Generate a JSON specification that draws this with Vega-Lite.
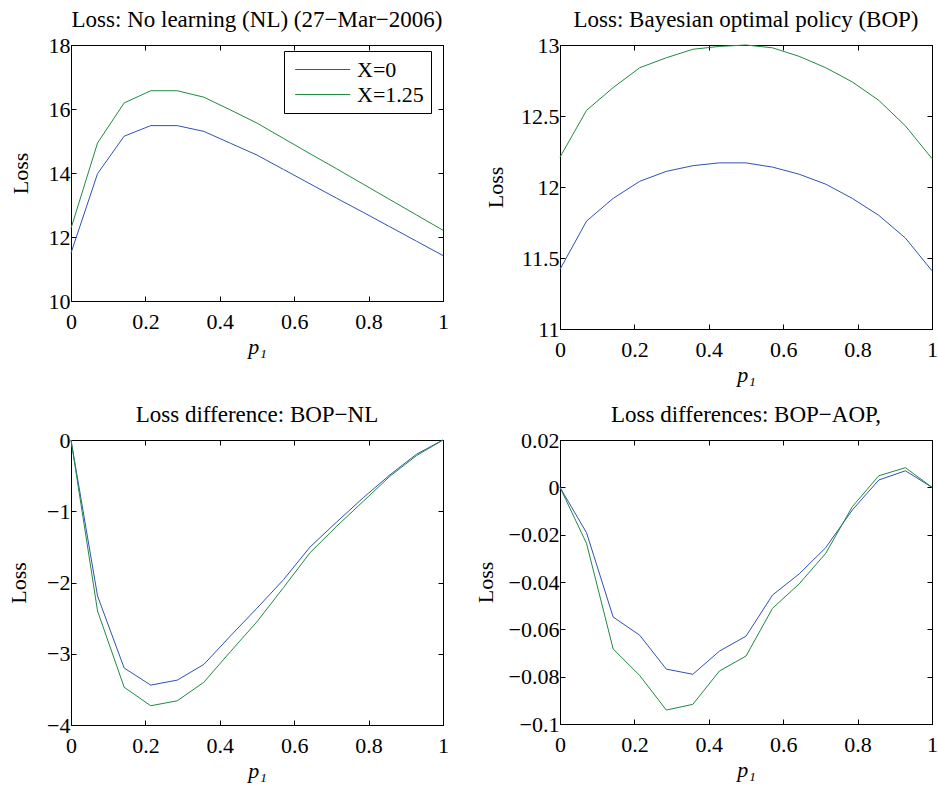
{
  "$schema": "https://vega.github.io/schema/vega-lite/v6.json",
  "background": "white",
  "padding": {"left": 7, "top": 8, "right": 3, "bottom": 5},
  "columns": 2,
  "spacing": {"row": 111, "column": 117},
  "bounds": "flush",
  "config": {
    "font": "Liberation Serif",
    "view": {"stroke": "black", "strokeWidth": 1},
    "axis": {
      "domainColor": "black", "domainWidth": 1,
      "tickColor": "black", "tickSize": -5, "tickWidth": 1,
      "labelFont": "Liberation Serif", "labelFontSize": 22, "labelColor": "black",
      "labelFlush": false, "labelOverlap": false,
      "titleFont": "Liberation Serif", "titleFontSize": 22, "titleFontWeight": "normal", "titleColor": "black",
      "grid": false
    },
    "axisX": {"titlePadding": 4, "labelPadding": 15},
    "axisY": {"titlePadding": 16, "labelPadding": 6},
    "title": {"font": "Liberation Serif", "fontSize": 23, "fontWeight": "normal", "color": "black", "offset": 2},
    "legend": {
      "orient": "none", "legendX": 213, "legendY": 6, "strokeColor": "black", "fillColor": "white", "padding": 7,
      "symbolType": "M-0.67,0H4.33", "symbolSize": 484, "symbolStrokeWidth": 1, "labelOffset": 43,
      "labelFont": "Liberation Serif", "labelFontSize": 22, "labelColor": "black", "rowPadding": 2
    }
  },
  "datasets": {
    "nl": [
      {"p": 0, "s": "X=0", "v": 11.5}, {"p": 0.0714, "s": "X=0", "v": 13.98}, {"p": 0.1429, "s": "X=0", "v": 15.15},
      {"p": 0.2143, "s": "X=0", "v": 15.48}, {"p": 0.2857, "s": "X=0", "v": 15.48}, {"p": 0.3571, "s": "X=0", "v": 15.3},
      {"p": 0.4286, "s": "X=0", "v": 14.93}, {"p": 0.5, "s": "X=0", "v": 14.56}, {"p": 0.5714, "s": "X=0", "v": 14.11},
      {"p": 0.6429, "s": "X=0", "v": 13.66}, {"p": 0.7143, "s": "X=0", "v": 13.21}, {"p": 0.7857, "s": "X=0", "v": 12.77},
      {"p": 0.8571, "s": "X=0", "v": 12.32}, {"p": 0.9286, "s": "X=0", "v": 11.87}, {"p": 1, "s": "X=0", "v": 11.42},
      {"p": 0, "s": "X=1.25", "v": 12.27}, {"p": 0.0714, "s": "X=1.25", "v": 14.94}, {"p": 0.1429, "s": "X=1.25", "v": 16.19},
      {"p": 0.2143, "s": "X=1.25", "v": 16.57}, {"p": 0.2857, "s": "X=1.25", "v": 16.57}, {"p": 0.3571, "s": "X=1.25", "v": 16.37},
      {"p": 0.4286, "s": "X=1.25", "v": 15.97}, {"p": 0.5, "s": "X=1.25", "v": 15.56}, {"p": 0.5714, "s": "X=1.25", "v": 15.08},
      {"p": 0.6429, "s": "X=1.25", "v": 14.6}, {"p": 0.7143, "s": "X=1.25", "v": 14.13}, {"p": 0.7857, "s": "X=1.25", "v": 13.65},
      {"p": 0.8571, "s": "X=1.25", "v": 13.17}, {"p": 0.9286, "s": "X=1.25", "v": 12.69}, {"p": 1, "s": "X=1.25", "v": 12.21}
    ],
    "bop": [
      {"p": 0, "s": "X=0", "v": 11.42}, {"p": 0.0714, "s": "X=0", "v": 11.76}, {"p": 0.1429, "s": "X=0", "v": 11.92},
      {"p": 0.2143, "s": "X=0", "v": 12.04}, {"p": 0.2857, "s": "X=0", "v": 12.11}, {"p": 0.3571, "s": "X=0", "v": 12.15},
      {"p": 0.4286, "s": "X=0", "v": 12.17}, {"p": 0.5, "s": "X=0", "v": 12.17}, {"p": 0.5714, "s": "X=0", "v": 12.14},
      {"p": 0.6429, "s": "X=0", "v": 12.09}, {"p": 0.7143, "s": "X=0", "v": 12.02}, {"p": 0.7857, "s": "X=0", "v": 11.92},
      {"p": 0.8571, "s": "X=0", "v": 11.8}, {"p": 0.9286, "s": "X=0", "v": 11.64}, {"p": 1, "s": "X=0", "v": 11.41},
      {"p": 0, "s": "X=1.25", "v": 12.21}, {"p": 0.0714, "s": "X=1.25", "v": 12.54}, {"p": 0.1429, "s": "X=1.25", "v": 12.7},
      {"p": 0.2143, "s": "X=1.25", "v": 12.84}, {"p": 0.2857, "s": "X=1.25", "v": 12.91}, {"p": 0.3571, "s": "X=1.25", "v": 12.97},
      {"p": 0.4286, "s": "X=1.25", "v": 12.99}, {"p": 0.5, "s": "X=1.25", "v": 13.0}, {"p": 0.5714, "s": "X=1.25", "v": 12.98},
      {"p": 0.6429, "s": "X=1.25", "v": 12.92}, {"p": 0.7143, "s": "X=1.25", "v": 12.84}, {"p": 0.7857, "s": "X=1.25", "v": 12.74},
      {"p": 0.8571, "s": "X=1.25", "v": 12.61}, {"p": 0.9286, "s": "X=1.25", "v": 12.43}, {"p": 1, "s": "X=1.25", "v": 12.2}
    ],
    "bopnl": [
      {"p": 0, "s": "X=0", "v": 0}, {"p": 0.0714, "s": "X=0", "v": -2.19}, {"p": 0.1429, "s": "X=0", "v": -3.2},
      {"p": 0.2143, "s": "X=0", "v": -3.44}, {"p": 0.2857, "s": "X=0", "v": -3.37}, {"p": 0.3571, "s": "X=0", "v": -3.15},
      {"p": 0.4286, "s": "X=0", "v": -2.75}, {"p": 0.5, "s": "X=0", "v": -2.36}, {"p": 0.5714, "s": "X=0", "v": -1.96},
      {"p": 0.6429, "s": "X=0", "v": -1.5}, {"p": 0.7143, "s": "X=0", "v": -1.15}, {"p": 0.7857, "s": "X=0", "v": -0.81},
      {"p": 0.8571, "s": "X=0", "v": -0.49}, {"p": 0.9286, "s": "X=0", "v": -0.2}, {"p": 1, "s": "X=0", "v": 0},
      {"p": 0, "s": "X=1.25", "v": 0}, {"p": 0.0714, "s": "X=1.25", "v": -2.4}, {"p": 0.1429, "s": "X=1.25", "v": -3.47},
      {"p": 0.2143, "s": "X=1.25", "v": -3.73}, {"p": 0.2857, "s": "X=1.25", "v": -3.66}, {"p": 0.3571, "s": "X=1.25", "v": -3.4},
      {"p": 0.4286, "s": "X=1.25", "v": -2.97}, {"p": 0.5, "s": "X=1.25", "v": -2.55}, {"p": 0.5714, "s": "X=1.25", "v": -2.07},
      {"p": 0.6429, "s": "X=1.25", "v": -1.58}, {"p": 0.7143, "s": "X=1.25", "v": -1.21}, {"p": 0.7857, "s": "X=1.25", "v": -0.86},
      {"p": 0.8571, "s": "X=1.25", "v": -0.51}, {"p": 0.9286, "s": "X=1.25", "v": -0.22}, {"p": 1, "s": "X=1.25", "v": 0}
    ],
    "bopaop": [
      {"p": 0, "s": "X=0", "v": 0}, {"p": 0.0714, "s": "X=0", "v": -0.0192}, {"p": 0.1429, "s": "X=0", "v": -0.0548},
      {"p": 0.2143, "s": "X=0", "v": -0.0625}, {"p": 0.2857, "s": "X=0", "v": -0.0768}, {"p": 0.3571, "s": "X=0", "v": -0.079},
      {"p": 0.4286, "s": "X=0", "v": -0.0692}, {"p": 0.5, "s": "X=0", "v": -0.0629}, {"p": 0.5714, "s": "X=0", "v": -0.0455},
      {"p": 0.6429, "s": "X=0", "v": -0.0366}, {"p": 0.7143, "s": "X=0", "v": -0.0255}, {"p": 0.7857, "s": "X=0", "v": -0.0096},
      {"p": 0.8571, "s": "X=0", "v": 0.0031}, {"p": 0.9286, "s": "X=0", "v": 0.007}, {"p": 1, "s": "X=0", "v": 0},
      {"p": 0, "s": "X=1.25", "v": 0}, {"p": 0.0714, "s": "X=1.25", "v": -0.0237}, {"p": 0.1429, "s": "X=1.25", "v": -0.0683},
      {"p": 0.2143, "s": "X=1.25", "v": -0.0795}, {"p": 0.2857, "s": "X=1.25", "v": -0.0941}, {"p": 0.3571, "s": "X=1.25", "v": -0.0917},
      {"p": 0.4286, "s": "X=1.25", "v": -0.0776}, {"p": 0.5, "s": "X=1.25", "v": -0.0713}, {"p": 0.5714, "s": "X=1.25", "v": -0.0511},
      {"p": 0.6429, "s": "X=1.25", "v": -0.0408}, {"p": 0.7143, "s": "X=1.25", "v": -0.0279}, {"p": 0.7857, "s": "X=1.25", "v": -0.0082},
      {"p": 0.8571, "s": "X=1.25", "v": 0.0049}, {"p": 0.9286, "s": "X=1.25", "v": 0.0083}, {"p": 1, "s": "X=1.25", "v": 0}
    ]
  },
  "concat": [
    {
      "width": 372, "height": 256,
      "data": {"name": "nl"},
      "title": "Loss: No learning (NL) (27−Mar−2006)",
      "layer": [
        {
          "mark": {"type": "line", "strokeWidth": 1},
          "encoding": {
            "x": {"field": "p", "type": "quantitative", "scale": {"domain": [0, 1], "nice": false},
                  "axis": {"values": [0, 0.2, 0.4, 0.6, 0.8, 1], "format": "~g", "title": "p₁", "titleFontStyle": "italic"}},
            "y": {"field": "v", "type": "quantitative", "scale": {"domain": [10, 18], "nice": false, "zero": false},
                  "axis": {"values": [10, 12, 14, 16, 18], "format": "~g", "title": "Loss"}},
            "color": {"field": "s", "type": "nominal", "scale": {"domain": ["X=0", "X=1.25"], "range": ["#2f52b4", "#1f8a42"]},
                      "legend": {"title": null}}
          }
        },
        {
          "mark": {"type": "line", "opacity": 0},
          "encoding": {
            "x": {"field": "p", "type": "quantitative", "axis": {"orient": "top", "values": [0, 0.2, 0.4, 0.6, 0.8, 1], "labels": false, "title": null, "minExtent": 0, "labelPadding": 0}},
            "y": {"field": "v", "type": "quantitative", "axis": {"orient": "right", "values": [10, 12, 14, 16, 18], "labels": false, "title": null, "minExtent": 0, "labelPadding": 0}},
            "detail": {"field": "s"}
          }
        }
      ],
      "resolve": {"axis": {"x": "independent", "y": "independent"}}
    },
    {
      "width": 372, "height": 284,
      "data": {"name": "bop"},
      "title": "Loss: Bayesian optimal policy (BOP)",
      "layer": [
        {
          "mark": {"type": "line", "strokeWidth": 1},
          "encoding": {
            "x": {"field": "p", "type": "quantitative", "scale": {"domain": [0, 1], "nice": false},
                  "axis": {"values": [0, 0.2, 0.4, 0.6, 0.8, 1], "format": "~g", "title": "p₁", "titleFontStyle": "italic"}},
            "y": {"field": "v", "type": "quantitative", "scale": {"domain": [11, 13], "nice": false, "zero": false},
                  "axis": {"values": [11, 11.5, 12, 12.5, 13], "format": "~g", "title": "Loss", "titlePadding": 13}},
            "color": {"field": "s", "type": "nominal", "scale": {"domain": ["X=0", "X=1.25"], "range": ["#2f52b4", "#1f8a42"]}, "legend": null}
          }
        },
        {
          "mark": {"type": "line", "opacity": 0},
          "encoding": {
            "x": {"field": "p", "type": "quantitative", "axis": {"orient": "top", "values": [0, 0.2, 0.4, 0.6, 0.8, 1], "labels": false, "title": null, "minExtent": 0, "labelPadding": 0}},
            "y": {"field": "v", "type": "quantitative", "axis": {"orient": "right", "values": [11, 11.5, 12, 12.5, 13], "labels": false, "title": null, "minExtent": 0, "labelPadding": 0}},
            "detail": {"field": "s"}
          }
        }
      ],
      "resolve": {"axis": {"x": "independent", "y": "independent"}}
    },
    {
      "width": 372, "height": 285,
      "data": {"name": "bopnl"},
      "title": "Loss difference: BOP−NL",
      "layer": [
        {
          "mark": {"type": "line", "strokeWidth": 1},
          "encoding": {
            "x": {"field": "p", "type": "quantitative", "scale": {"domain": [0, 1], "nice": false},
                  "axis": {"values": [0, 0.2, 0.4, 0.6, 0.8, 1], "format": "~g", "title": "p₁", "titleFontStyle": "italic"}},
            "y": {"field": "v", "type": "quantitative", "scale": {"domain": [-4, 0], "nice": false, "zero": false},
                  "axis": {"values": [-4, -3, -2, -1, 0], "format": "~g", "title": "Loss"}},
            "color": {"field": "s", "type": "nominal", "scale": {"domain": ["X=0", "X=1.25"], "range": ["#2f52b4", "#1f8a42"]}, "legend": null}
          }
        },
        {
          "mark": {"type": "line", "opacity": 0},
          "encoding": {
            "x": {"field": "p", "type": "quantitative", "axis": {"orient": "top", "values": [0, 0.2, 0.4, 0.6, 0.8, 1], "labels": false, "title": null, "minExtent": 0, "labelPadding": 0}},
            "y": {"field": "v", "type": "quantitative", "axis": {"orient": "right", "values": [-4, -3, -2, -1, 0], "labels": false, "title": null, "minExtent": 0, "labelPadding": 0}},
            "detail": {"field": "s"}
          }
        }
      ],
      "resolve": {"axis": {"x": "independent", "y": "independent"}}
    },
    {
      "width": 372, "height": 284,
      "data": {"name": "bopaop"},
      "title": "Loss differences: BOP−AOP,",
      "layer": [
        {
          "mark": {"type": "line", "strokeWidth": 1},
          "encoding": {
            "x": {"field": "p", "type": "quantitative", "scale": {"domain": [0, 1], "nice": false},
                  "axis": {"values": [0, 0.2, 0.4, 0.6, 0.8, 1], "format": "~g", "title": "p₁", "titleFontStyle": "italic"}},
            "y": {"field": "v", "type": "quantitative", "scale": {"domain": [-0.1, 0.02], "nice": false, "zero": false},
                  "axis": {"values": [-0.1, -0.08, -0.06, -0.04, -0.02, 0, 0.02], "format": "~g", "title": "Loss", "titlePadding": 11}},
            "color": {"field": "s", "type": "nominal", "scale": {"domain": ["X=0", "X=1.25"], "range": ["#2f52b4", "#1f8a42"]}, "legend": null}
          }
        },
        {
          "mark": {"type": "line", "opacity": 0},
          "encoding": {
            "x": {"field": "p", "type": "quantitative", "axis": {"orient": "top", "values": [0, 0.2, 0.4, 0.6, 0.8, 1], "labels": false, "title": null, "minExtent": 0, "labelPadding": 0}},
            "y": {"field": "v", "type": "quantitative", "axis": {"orient": "right", "values": [-0.1, -0.08, -0.06, -0.04, -0.02, 0, 0.02], "labels": false, "title": null, "minExtent": 0, "labelPadding": 0}},
            "detail": {"field": "s"}
          }
        }
      ],
      "resolve": {"axis": {"x": "independent", "y": "independent"}}
    }
  ]
}
